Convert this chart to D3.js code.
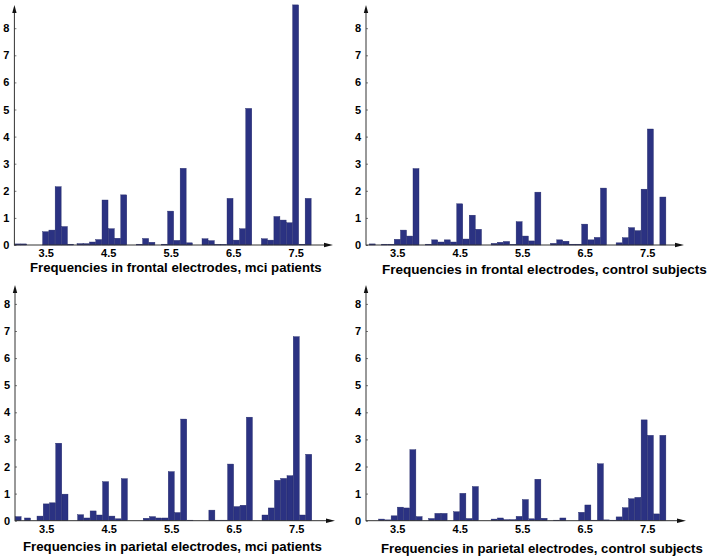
<!DOCTYPE html>
<html><head><meta charset="utf-8">
<script src="https://cdn.jsdelivr.net/npm/d3@7"></script>
<style>
html,body{margin:0;padding:0;background:#fff;}
svg{display:block;}
text{font-family:"Liberation Sans",Arial,sans-serif;font-weight:bold;fill:#000;}
</style></head>
<body>
<script>
// ---- data ----
const xTickValues = [3.5, 4.5, 5.5, 6.5, 7.5];
const xTickLabels = ["3.5", "4.5", "5.5", "6.5", "7.5"];
const yTickValues = [0, 1, 2, 3, 4, 5, 6, 7, 8];
const titles = [
  "Frequencies in frontal electrodes, mci patients",
  "Frequencies in frontal electrodes, control subjects",
  "Frequencies in parietal electrodes, mci patients",
  "Frequencies in parietal electrodes, control subjects"
];
// frontal, mci patients
const fmFreq = [3.05,3.15, 3.5,3.6,3.7,3.8,3.9, 4.05,4.15,4.25,4.35,4.45,4.55,4.65,4.75, 5.0,5.1,5.2,5.4,5.5,5.6,5.7,5.8, 6.05,6.15,6.25,6.35,6.45,6.55,6.65,6.75, 7.0,7.1,7.2,7.3,7.4,7.5,7.6,7.7];
const fmVals = [0.04,0.04, 0.49,0.55,2.15,0.68,0.03, 0.05,0.05,0.11,0.2,1.66,0.6,0.25,1.85, 0.03,0.24,0.1,0.03,1.25,0.17,2.83,0.08, 0.23,0.16,0.02,0.02,1.72,0.18,0.6,5.04, 0.23,0.18,1.05,0.92,0.82,8.86,0.03,1.72];
// frontal, control subjects
const fcFreq = [3.1, 3.3,3.4,3.5,3.6,3.7,3.8, 4.0,4.1,4.2,4.3,4.4,4.5,4.6,4.7,4.8, 5.05,5.15,5.25,5.35,5.45,5.55,5.65,5.75, 6.0,6.1,6.2,6.3,6.4,6.5,6.6,6.7,6.8, 7.05,7.15,7.25,7.35,7.45,7.55,7.75];
const fcVals = [0.04, 0.03,0.03,0.21,0.55,0.33,2.82, 0.03,0.19,0.11,0.19,0.11,1.52,0.22,1.1,0.58, 0.06,0.1,0.13,0.02,0.86,0.33,0.15,1.95, 0.06,0.19,0.14,0.03,0.03,0.77,0.19,0.28,2.1, 0.08,0.27,0.64,0.53,2.06,4.28,1.77];
// parietal, mci patients
const pmFreq = [3.05, 3.2, 3.4,3.5,3.6,3.7,3.8, 4.05,4.15,4.25,4.35,4.45,4.55,4.65,4.75, 5.1,5.2,5.3,5.4,5.5,5.6,5.7,5.8, 6.15,6.25,6.35,6.45,6.55,6.65,6.75, 7.0,7.1,7.2,7.3,7.4,7.5,7.6,7.7];
const pmVals = [0.15, 0.1, 0.17,0.62,0.66,2.86,0.98, 0.22,0.1,0.36,0.21,1.44,0.17,0.07,1.55, 0.09,0.15,0.1,0.1,1.81,0.3,3.75,0.02, 0.39,0.02,0.02,2.09,0.52,0.57,3.82, 0.21,0.47,1.49,1.56,1.66,6.79,0.21,2.45];
// parietal, control subjects
const pcFreq = [3.25,3.35,3.45,3.55,3.65,3.75,3.85, 4.05,4.15,4.25,4.45,4.55,4.65,4.75, 5.05,5.15,5.25,5.35,5.45,5.55,5.65,5.75,5.85, 6.05,6.15,6.45,6.55,6.65,6.75,6.85, 6.95,7.05,7.15,7.25,7.35,7.45,7.55,7.65,7.75];
const pcVals = [0.06,0.03,0.18,0.5,0.47,2.62,0.15, 0.08,0.27,0.27,0.33,1.01,0.08,1.26, 0.06,0.1,0.04,0.04,0.16,0.78,0.07,1.53,0.09, 0.02,0.1,0.31,0.58,0.02,2.1,0.03, 0.02,0.14,0.48,0.81,0.86,3.72,3.15,0.25,3.15];

// ---- layout ----
const W = 708, H = 557;
const barColor = "#2b3282";
const binWidth = 0.096;
const pxPerHz = 62.5, pxPerUnit = 27.1;

const panels = [
  {freq: fmFreq, vals: fmVals, title: titles[0], ax: 14.4, base: 245, top: 5,   xEnd: 333, tX: 30,  tW: 292, tY: 272, lY: 258},
  {freq: fcFreq, vals: fcVals, title: titles[1], ax: 366,  base: 245, top: 5,   xEnd: 684, tX: 382, tW: 325, tY: 274, lY: 258},
  {freq: pmFreq, vals: pmVals, title: titles[2], ax: 15,   base: 520.7, top: 285, xEnd: 335, tX: 23,  tW: 299, tY: 551, lY: 534},
  {freq: pcFreq, vals: pcVals, title: titles[3], ax: 366,  base: 520.7, top: 285, xEnd: 686, tX: 381, tW: 322, tY: 552.5, lY: 534}
];

const svg = d3.select("body").append("svg").attr("width", W).attr("height", H);

panels.forEach(p => {
  const g = svg.append("g");
  const xMax = 3.0 + (p.xEnd - p.ax) / pxPerHz;
  const x = d3.scaleLinear().domain([3.0, xMax]).range([p.ax, p.xEnd]);
  const yMax = (p.base - p.top) / pxPerUnit;
  const y = d3.scaleLinear().domain([0, yMax]).range([p.base, p.top]);

  const data = p.freq.map((f, i) => ({f, v: p.vals[i]}));

  // bars
  g.selectAll("rect.bar").data(data).enter().append("rect")
    .attr("class", "bar")
    .attr("x", d => x(d.f - binWidth / 2))
    .attr("width", d => x(d.f + binWidth / 2) - x(d.f - binWidth / 2))
    .attr("y", d => y(d.v))
    .attr("height", d => y(0) - y(d.v))
    .attr("fill", barColor)
    .attr("stroke", "#1f2566")
    .attr("stroke-width", 0.4);

  // y axis
  const yAxis = d3.axisLeft(y).tickValues(yTickValues).tickSize(-2).tickPadding(5).tickFormat(d3.format("d"));
  const ya = g.append("g").attr("transform", `translate(${p.ax},0)`).call(yAxis);
  ya.select(".domain").remove();
  ya.selectAll(".tick line").attr("stroke", "#555").attr("stroke-width", 0.8);
  ya.selectAll(".tick text").attr("font-size", 11).attr("font-family", "Liberation Sans, Arial, sans-serif").attr("font-weight", "bold").attr("fill", "#111");

  // x axis labels
  const xAxis = d3.axisBottom(x).tickValues(xTickValues).tickSize(0).tickPadding(0)
    .tickFormat((d, i) => xTickLabels[i]);
  const xa = g.append("g").attr("transform", `translate(0,${p.lY - 9})`).call(xAxis);
  xa.select(".domain").remove();
  xa.selectAll(".tick text").attr("font-size", 11).attr("font-family", "Liberation Sans, Arial, sans-serif").attr("font-weight", "bold").attr("fill", "#111").attr("dy", "0.71em");

  // axis lines with arrows
  g.append("line").attr("x1", p.ax).attr("x2", p.ax).attr("y1", p.base + 0.5).attr("y2", p.top + 6)
    .attr("stroke", "#333").attr("stroke-width", 1);
  g.append("path").attr("d", `M${p.ax - 2.2},${p.top + 8} L${p.ax},${p.top} L${p.ax + 2.2},${p.top + 8} Z`).attr("fill", "#111");
  g.append("line").attr("x1", p.ax).attr("x2", p.xEnd - 6).attr("y1", p.base).attr("y2", p.base)
    .attr("stroke", "#333").attr("stroke-width", 1);
  g.append("path").attr("d", `M${p.xEnd - 9},${p.base - 2.2} L${p.xEnd},${p.base} L${p.xEnd - 9},${p.base + 2.2} Z`).attr("fill", "#111");

  // title
  const t = g.append("text").attr("x", p.tX).attr("y", p.tY).attr("font-size", 12).text(p.title);
  const w = t.node().getComputedTextLength();
  t.attr("font-size", (12 * p.tW / w).toFixed(2));
});
</script>
</body></html>
